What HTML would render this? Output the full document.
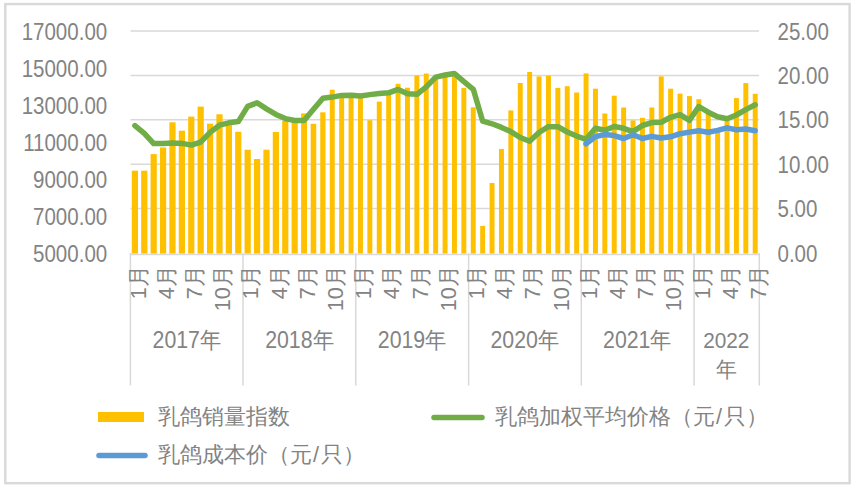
<!DOCTYPE html>
<html><head><meta charset="utf-8"><style>
html,body{margin:0;padding:0;background:#fff;width:851px;height:488px;overflow:hidden}
svg{display:block}
text{font-family:"Liberation Sans",sans-serif;fill:#838383}
</style></head><body>
<svg width="851" height="488" viewBox="0 0 851 488">
<rect x="0" y="0" width="851" height="488" fill="#fff"/>
<rect x="5.3" y="4.1" width="844.3" height="479.1" fill="none" stroke="#d9d9d9" stroke-width="2.4"/>

<line x1="130.5" x2="759" y1="208.6" y2="208.6" stroke="#d9d9d9" stroke-width="1.5"/>
<line x1="130.5" x2="759" y1="164.2" y2="164.2" stroke="#d9d9d9" stroke-width="1.5"/>
<line x1="130.5" x2="759" y1="119.8" y2="119.8" stroke="#d9d9d9" stroke-width="1.5"/>
<line x1="130.5" x2="759" y1="75.4" y2="75.4" stroke="#d9d9d9" stroke-width="1.5"/>
<line x1="130.5" x2="759" y1="31.0" y2="31.0" stroke="#d9d9d9" stroke-width="1.5"/>
<rect x="131.79" y="170.7" width="6.20" height="82.9" fill="#FFC000"/>
<rect x="141.19" y="170.7" width="6.20" height="82.9" fill="#FFC000"/>
<rect x="150.59" y="154.1" width="6.20" height="99.5" fill="#FFC000"/>
<rect x="159.99" y="147.5" width="6.20" height="106.1" fill="#FFC000"/>
<rect x="169.39" y="122.3" width="6.20" height="131.3" fill="#FFC000"/>
<rect x="178.78" y="130.7" width="6.20" height="122.9" fill="#FFC000"/>
<rect x="188.18" y="116.6" width="6.20" height="137.0" fill="#FFC000"/>
<rect x="197.58" y="106.6" width="6.20" height="147.0" fill="#FFC000"/>
<rect x="206.98" y="123.7" width="6.20" height="129.9" fill="#FFC000"/>
<rect x="216.38" y="114.3" width="6.20" height="139.3" fill="#FFC000"/>
<rect x="225.78" y="125.2" width="6.20" height="128.4" fill="#FFC000"/>
<rect x="235.18" y="131.8" width="6.20" height="121.8" fill="#FFC000"/>
<rect x="244.58" y="149.7" width="6.20" height="103.9" fill="#FFC000"/>
<rect x="253.98" y="159.0" width="6.20" height="94.6" fill="#FFC000"/>
<rect x="263.38" y="149.7" width="6.20" height="103.9" fill="#FFC000"/>
<rect x="272.77" y="132.0" width="6.20" height="121.6" fill="#FFC000"/>
<rect x="282.17" y="121.0" width="6.20" height="132.6" fill="#FFC000"/>
<rect x="291.57" y="121.5" width="6.20" height="132.1" fill="#FFC000"/>
<rect x="301.13" y="113.4" width="5.89" height="140.2" fill="#FFC000"/>
<rect x="310.68" y="123.8" width="5.58" height="129.8" fill="#FFC000"/>
<rect x="320.24" y="112.3" width="5.26" height="141.3" fill="#FFC000"/>
<rect x="329.79" y="89.7" width="4.95" height="163.9" fill="#FFC000"/>
<rect x="339.19" y="95.0" width="4.95" height="158.6" fill="#FFC000"/>
<rect x="348.59" y="95.0" width="4.95" height="158.6" fill="#FFC000"/>
<rect x="357.99" y="96.0" width="4.95" height="157.6" fill="#FFC000"/>
<rect x="367.39" y="120.2" width="4.95" height="133.4" fill="#FFC000"/>
<rect x="376.79" y="101.6" width="4.95" height="152.0" fill="#FFC000"/>
<rect x="386.19" y="94.0" width="4.95" height="159.6" fill="#FFC000"/>
<rect x="395.59" y="83.8" width="4.95" height="169.8" fill="#FFC000"/>
<rect x="404.99" y="87.7" width="4.95" height="165.9" fill="#FFC000"/>
<rect x="414.38" y="75.5" width="4.95" height="178.1" fill="#FFC000"/>
<rect x="423.78" y="73.5" width="4.95" height="180.1" fill="#FFC000"/>
<rect x="433.18" y="77.0" width="4.95" height="176.6" fill="#FFC000"/>
<rect x="442.58" y="75.5" width="4.95" height="178.1" fill="#FFC000"/>
<rect x="451.98" y="74.0" width="4.95" height="179.6" fill="#FFC000"/>
<rect x="461.38" y="87.9" width="4.95" height="165.7" fill="#FFC000"/>
<rect x="470.78" y="107.3" width="4.95" height="146.3" fill="#FFC000"/>
<rect x="480.18" y="225.9" width="4.95" height="27.7" fill="#FFC000"/>
<rect x="489.58" y="183.0" width="4.95" height="70.6" fill="#FFC000"/>
<rect x="498.98" y="149.0" width="4.95" height="104.6" fill="#FFC000"/>
<rect x="508.37" y="110.4" width="4.95" height="143.2" fill="#FFC000"/>
<rect x="517.77" y="83.0" width="4.95" height="170.6" fill="#FFC000"/>
<rect x="527.17" y="72.0" width="4.95" height="181.6" fill="#FFC000"/>
<rect x="536.57" y="76.4" width="4.95" height="177.2" fill="#FFC000"/>
<rect x="545.97" y="75.6" width="4.95" height="178.0" fill="#FFC000"/>
<rect x="555.37" y="87.9" width="4.95" height="165.7" fill="#FFC000"/>
<rect x="564.77" y="86.2" width="4.95" height="167.4" fill="#FFC000"/>
<rect x="574.17" y="92.5" width="4.95" height="161.1" fill="#FFC000"/>
<rect x="583.57" y="73.4" width="4.95" height="180.2" fill="#FFC000"/>
<rect x="592.97" y="88.7" width="4.95" height="164.9" fill="#FFC000"/>
<rect x="602.36" y="113.5" width="4.95" height="140.1" fill="#FFC000"/>
<rect x="611.76" y="95.7" width="4.95" height="157.9" fill="#FFC000"/>
<rect x="621.16" y="107.5" width="4.95" height="146.1" fill="#FFC000"/>
<rect x="630.56" y="120.4" width="4.95" height="133.2" fill="#FFC000"/>
<rect x="639.96" y="117.8" width="4.95" height="135.8" fill="#FFC000"/>
<rect x="649.36" y="107.5" width="4.95" height="146.1" fill="#FFC000"/>
<rect x="658.76" y="76.4" width="4.95" height="177.2" fill="#FFC000"/>
<rect x="668.16" y="88.7" width="4.95" height="164.9" fill="#FFC000"/>
<rect x="677.56" y="93.6" width="4.95" height="160.0" fill="#FFC000"/>
<rect x="686.96" y="96.1" width="4.95" height="157.5" fill="#FFC000"/>
<rect x="696.35" y="99.2" width="4.95" height="154.4" fill="#FFC000"/>
<rect x="705.75" y="114.0" width="4.95" height="139.6" fill="#FFC000"/>
<rect x="715.15" y="131.0" width="4.95" height="122.6" fill="#FFC000"/>
<rect x="724.55" y="119.5" width="4.95" height="134.1" fill="#FFC000"/>
<rect x="733.95" y="98.1" width="4.95" height="155.5" fill="#FFC000"/>
<rect x="743.35" y="83.1" width="4.95" height="170.5" fill="#FFC000"/>
<rect x="752.75" y="93.8" width="4.95" height="159.8" fill="#FFC000"/>
<line x1="130.5" x2="759" y1="254.5" y2="254.5" stroke="#d9d9d9" stroke-width="1.4"/>
<line x1="130.4" x2="130.4" y1="253.0" y2="385.5" stroke="#d9d9d9" stroke-width="1.5"/>
<line x1="243.0" x2="243.0" y1="253.0" y2="385.5" stroke="#d9d9d9" stroke-width="1.5"/>
<line x1="355.8" x2="355.8" y1="253.0" y2="385.5" stroke="#d9d9d9" stroke-width="1.5"/>
<line x1="468.6" x2="468.6" y1="253.0" y2="385.5" stroke="#d9d9d9" stroke-width="1.5"/>
<line x1="581.3" x2="581.3" y1="253.0" y2="385.5" stroke="#d9d9d9" stroke-width="1.5"/>
<line x1="694.1" x2="694.1" y1="253.0" y2="385.5" stroke="#d9d9d9" stroke-width="1.5"/>
<line x1="759.3" x2="759.3" y1="253.0" y2="385.5" stroke="#d9d9d9" stroke-width="1.5"/>
<polyline points="134.9,125.6 144.3,133.4 153.7,143.6 163.1,143.5 172.5,143.1 181.9,143.4 191.3,145.1 200.7,142.2 210.1,132.4 219.5,125.2 228.9,122.8 238.3,121.6 247.7,106.4 257.1,102.8 266.5,108.9 275.9,114.4 285.3,118.6 294.7,120.5 304.1,120.5 313.5,109.2 322.9,98.2 332.3,97.1 341.7,95.4 351.1,95.2 360.5,96.0 369.9,94.6 379.3,93.4 388.7,92.8 398.1,89.4 407.5,93.8 416.9,94.3 426.3,86.8 435.7,77.1 445.1,75 454.5,73.5 463.9,81.6 473.3,89.3 482.7,121.2 492.1,123.8 501.5,127.4 510.8,131.6 520.2,137.5 529.6,141.2 539.0,132.5 548.4,126.7 557.8,126.7 567.2,132 576.6,136.1 586.0,139.3 595.4,128.3 604.8,130.3 614.2,126.5 623.6,128.3 633.0,131.6 642.4,125.5 651.8,122.6 661.2,122.2 670.6,117.3 680.0,114.6 689.4,120.4 698.8,106.5 708.2,112.2 717.6,116.8 727.0,118.7 736.4,115 745.8,109.6 755.2,104.8" fill="none" stroke="#70AD47" stroke-width="5.5" stroke-linejoin="round" stroke-linecap="round"/>
<polyline points="586.0,143.9 595.4,136.6 604.8,134.6 614.2,135.6 623.6,138.5 633.0,134.8 642.4,138.5 651.8,136.4 661.2,138 670.6,136.8 680.0,133.7 689.4,132.1 698.8,130.8 708.2,132.2 717.6,130.4 727.0,127.9 736.4,129.8 745.8,129 755.2,130.7" fill="none" stroke="#5B9BD5" stroke-width="5.5" stroke-linejoin="round" stroke-linecap="round"/>
<text transform="translate(107.2,261.5) scale(0.955,1.1)" text-anchor="end" font-size="21.5">5000.00</text>
<text transform="translate(107.2,224.5) scale(0.955,1.1)" text-anchor="end" font-size="21.5">7000.00</text>
<text transform="translate(107.2,187.5) scale(0.955,1.1)" text-anchor="end" font-size="21.5">9000.00</text>
<text transform="translate(107.2,150.5) scale(0.955,1.1)" text-anchor="end" font-size="21.5">11000.00</text>
<text transform="translate(107.2,113.5) scale(0.955,1.1)" text-anchor="end" font-size="21.5">13000.00</text>
<text transform="translate(107.2,76.5) scale(0.955,1.1)" text-anchor="end" font-size="21.5">15000.00</text>
<text transform="translate(107.2,39.5) scale(0.955,1.1)" text-anchor="end" font-size="21.5">17000.00</text>
<text transform="translate(777.5,261.5) scale(0.955,1.1)" font-size="21.5">0.00</text>
<text transform="translate(777.5,217.1) scale(0.955,1.1)" font-size="21.5">5.00</text>
<text transform="translate(777.5,172.7) scale(0.955,1.1)" font-size="21.5">10.00</text>
<text transform="translate(777.5,128.3) scale(0.955,1.1)" font-size="21.5">15.00</text>
<text transform="translate(777.5,83.9) scale(0.955,1.1)" font-size="21.5">20.00</text>
<text transform="translate(777.5,39.5) scale(0.955,1.1)" font-size="21.5">25.00</text>
<text transform="translate(145.6,265.2) rotate(-90)" text-anchor="end" font-size="21.7">1月</text>
<text transform="translate(173.8,265.2) rotate(-90)" text-anchor="end" font-size="21.7">4月</text>
<text transform="translate(202.0,265.2) rotate(-90)" text-anchor="end" font-size="21.7">7月</text>
<text transform="translate(230.2,265.2) rotate(-90)" text-anchor="end" font-size="21.7">10月</text>
<text transform="translate(258.4,265.2) rotate(-90)" text-anchor="end" font-size="21.7">1月</text>
<text transform="translate(286.6,265.2) rotate(-90)" text-anchor="end" font-size="21.7">4月</text>
<text transform="translate(314.8,265.2) rotate(-90)" text-anchor="end" font-size="21.7">7月</text>
<text transform="translate(343.0,265.2) rotate(-90)" text-anchor="end" font-size="21.7">10月</text>
<text transform="translate(371.2,265.2) rotate(-90)" text-anchor="end" font-size="21.7">1月</text>
<text transform="translate(399.4,265.2) rotate(-90)" text-anchor="end" font-size="21.7">4月</text>
<text transform="translate(427.6,265.2) rotate(-90)" text-anchor="end" font-size="21.7">7月</text>
<text transform="translate(455.8,265.2) rotate(-90)" text-anchor="end" font-size="21.7">10月</text>
<text transform="translate(484.0,265.2) rotate(-90)" text-anchor="end" font-size="21.7">1月</text>
<text transform="translate(512.2,265.2) rotate(-90)" text-anchor="end" font-size="21.7">4月</text>
<text transform="translate(540.3,265.2) rotate(-90)" text-anchor="end" font-size="21.7">7月</text>
<text transform="translate(568.5,265.2) rotate(-90)" text-anchor="end" font-size="21.7">10月</text>
<text transform="translate(596.7,265.2) rotate(-90)" text-anchor="end" font-size="21.7">1月</text>
<text transform="translate(624.9,265.2) rotate(-90)" text-anchor="end" font-size="21.7">4月</text>
<text transform="translate(653.1,265.2) rotate(-90)" text-anchor="end" font-size="21.7">7月</text>
<text transform="translate(681.3,265.2) rotate(-90)" text-anchor="end" font-size="21.7">10月</text>
<text transform="translate(709.5,265.2) rotate(-90)" text-anchor="end" font-size="21.7">1月</text>
<text transform="translate(737.7,265.2) rotate(-90)" text-anchor="end" font-size="21.7">4月</text>
<text transform="translate(765.9,265.2) rotate(-90)" text-anchor="end" font-size="21.7">7月</text>
<text transform="translate(186.8,348.3) scale(1,1.08)" text-anchor="middle" font-size="21.3">2017年</text>
<text transform="translate(299.4,348.3) scale(1,1.08)" text-anchor="middle" font-size="21.3">2018年</text>
<text transform="translate(412.1,348.3) scale(1,1.08)" text-anchor="middle" font-size="21.3">2019年</text>
<text transform="translate(524.7,348.3) scale(1,1.08)" text-anchor="middle" font-size="21.3">2020年</text>
<text transform="translate(637.3,348.3) scale(1,1.08)" text-anchor="middle" font-size="21.3">2021年</text>
<text transform="translate(726.3,348.3) scale(1,1.08)" text-anchor="middle" font-size="20.8">2022</text>
<text transform="translate(726.3,377.3) scale(1,1.05)" text-anchor="middle" font-size="20.8">年</text>
<rect x="98" y="412" width="46" height="10" fill="#FFC000"/>
<text x="157.5" y="424" font-size="21.65">乳鸽销量指数</text>
<line x1="434" x2="482" y1="417.4" y2="417.4" stroke="#70AD47" stroke-width="5.5" stroke-linecap="round"/>
<text x="494.5" y="424" font-size="21.65">乳鸽加权平均价格（元<tspan dx="1.5">/</tspan><tspan dx="2">只</tspan>）</text>
<line x1="99" x2="145" y1="455.4" y2="455.4" stroke="#5B9BD5" stroke-width="5.5" stroke-linecap="round"/>
<text x="157.5" y="462" font-size="21.65">乳鸽成本价（元<tspan dx="1.5">/</tspan><tspan dx="2">只</tspan>）</text>
</svg></body></html>
